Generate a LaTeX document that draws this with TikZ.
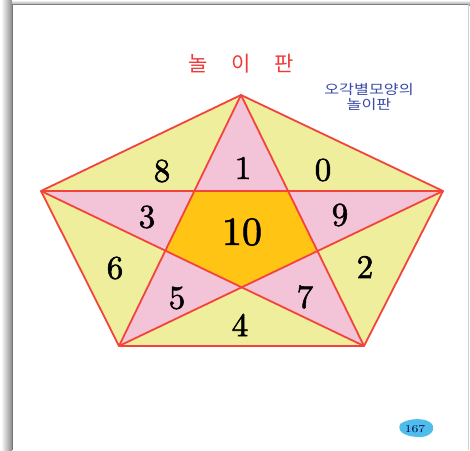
\documentclass[tikz,border=0pt]{standalone}
\usepackage{fontspec}
\usepackage{graphicx}
\newfontfamily\kr{Noto Sans CJK KR}
\newfontface\numfont{lmroman10-regular.otf}[FakeBold=1.6]
\definecolor{ylw}{HTML}{EFEE9C}
\definecolor{pnk}{HTML}{F3C3D8}
\definecolor{org}{HTML}{FFC414}
\definecolor{lred}{HTML}{F2443C}
\definecolor{tred}{HTML}{F03A3A}
\definecolor{tblue}{HTML}{3A4AA8}
\definecolor{blob}{HTML}{4FBDEB}
\tikzset{
  num/.style={font=\numfont\fontsize{33}{33}\selectfont, text=black, inner sep=0pt},
  bignum/.style={font=\numfont\fontsize{40}{40}\selectfont, text=black, inner sep=0pt},
  edge/.style={draw=lred, line width=1.8pt, line join=round},
}
\begin{document}
\begin{tikzpicture}[x=1pt,y=-1pt]
\useasboundingbox (0,0) rectangle (470,450);
% page with shadow
\fill[white] (0,0) rectangle (470,450);
\shade[left color=white, right color=black!45] (1,0) rectangle (12,450);
\shade[top color=white, bottom color=black!40] (12,0) rectangle (470,5);
\fill[black!55] (11.5,4) rectangle (13,450);
\fill[black!50] (12,4) rectangle (468,5.3);
\fill[white] (13,5.3) rectangle (468,450);
\fill[black!18] (468,5.3) rectangle (469.2,450);
% vertices
\coordinate (T) at (241,95);
\coordinate (R) at (443,191);
\coordinate (BR) at (364,346);
\coordinate (BL) at (119,346);
\coordinate (L) at (41,191);
\coordinate (p1) at (intersection of L--R and T--BL);
\coordinate (p2) at (intersection of L--R and T--BR);
\coordinate (p3) at (intersection of R--BL and T--BR);
\coordinate (p4) at (intersection of R--BL and L--BR);
\coordinate (p5) at (intersection of L--BR and T--BL);
% fills
\fill[ylw] (T) -- (R) -- (BR) -- (BL) -- (L) -- cycle;
\fill[pnk] (T) -- (p2) -- (R) -- (p3) -- (BR) -- (p4) -- (BL) -- (p5) -- (L) -- (p1) -- cycle;
\fill[org] (p1) -- (p2) -- (p3) -- (p4) -- (p5) -- cycle;
% lines
\draw[edge] (T) -- (R) -- (BR) -- (BL) -- (L) -- cycle;
\draw[edge] (T) -- (BL);
\draw[edge] (T) -- (BR);
\draw[edge] (L) -- (R);
\draw[edge] (L) -- (BR);
\draw[edge] (R) -- (BL);
% numbers
\node[num] (n8) at (162,171) {8};
\node[num] (n1) at (243,168) {1};
\node[num] (n0) at (323,170) {0};
\node[num] (n3) at (147,217) {3};
\node[num] (n9) at (340,215) {9};
\node[bignum] (n10) at (242,232) {10};
\node[num] (n6) at (115,268) {6};
\node[num] (n2) at (365,267) {2};
\node[num] (n5) at (177,298) {5};
\node[num] (n7) at (305,297) {7};
\node[num] (n4) at (240,325) {4};
% titles
\node[font=\kr\fontsize{21}{21}\selectfont, text=tred, inner sep=0pt] (title) at (241,64) {놀\hspace{24pt}이\hspace{24pt}판};
\node[font=\kr\fontsize{13.5}{15}\selectfont, text=tblue, align=center, inner sep=0pt] (sub) at (369,96.5) {\scalebox{1.2}[1]{오각별모양의}\\\scalebox{1.2}[1]{놀이판}};
% page number
\fill[blob] (400,424) .. controls (408,418) and (426,417) .. (432,424) .. controls (436,430) and (430,437) .. (420,437) .. controls (410,437) and (396,434) .. (400,424) -- cycle;
\node[font=\fontsize{10.5}{11}\selectfont, text=black!70!blue, inner sep=0pt] (pg) at (415,429) {\scalebox{1.3}[1]{167}};
\end{tikzpicture}
\end{document}
